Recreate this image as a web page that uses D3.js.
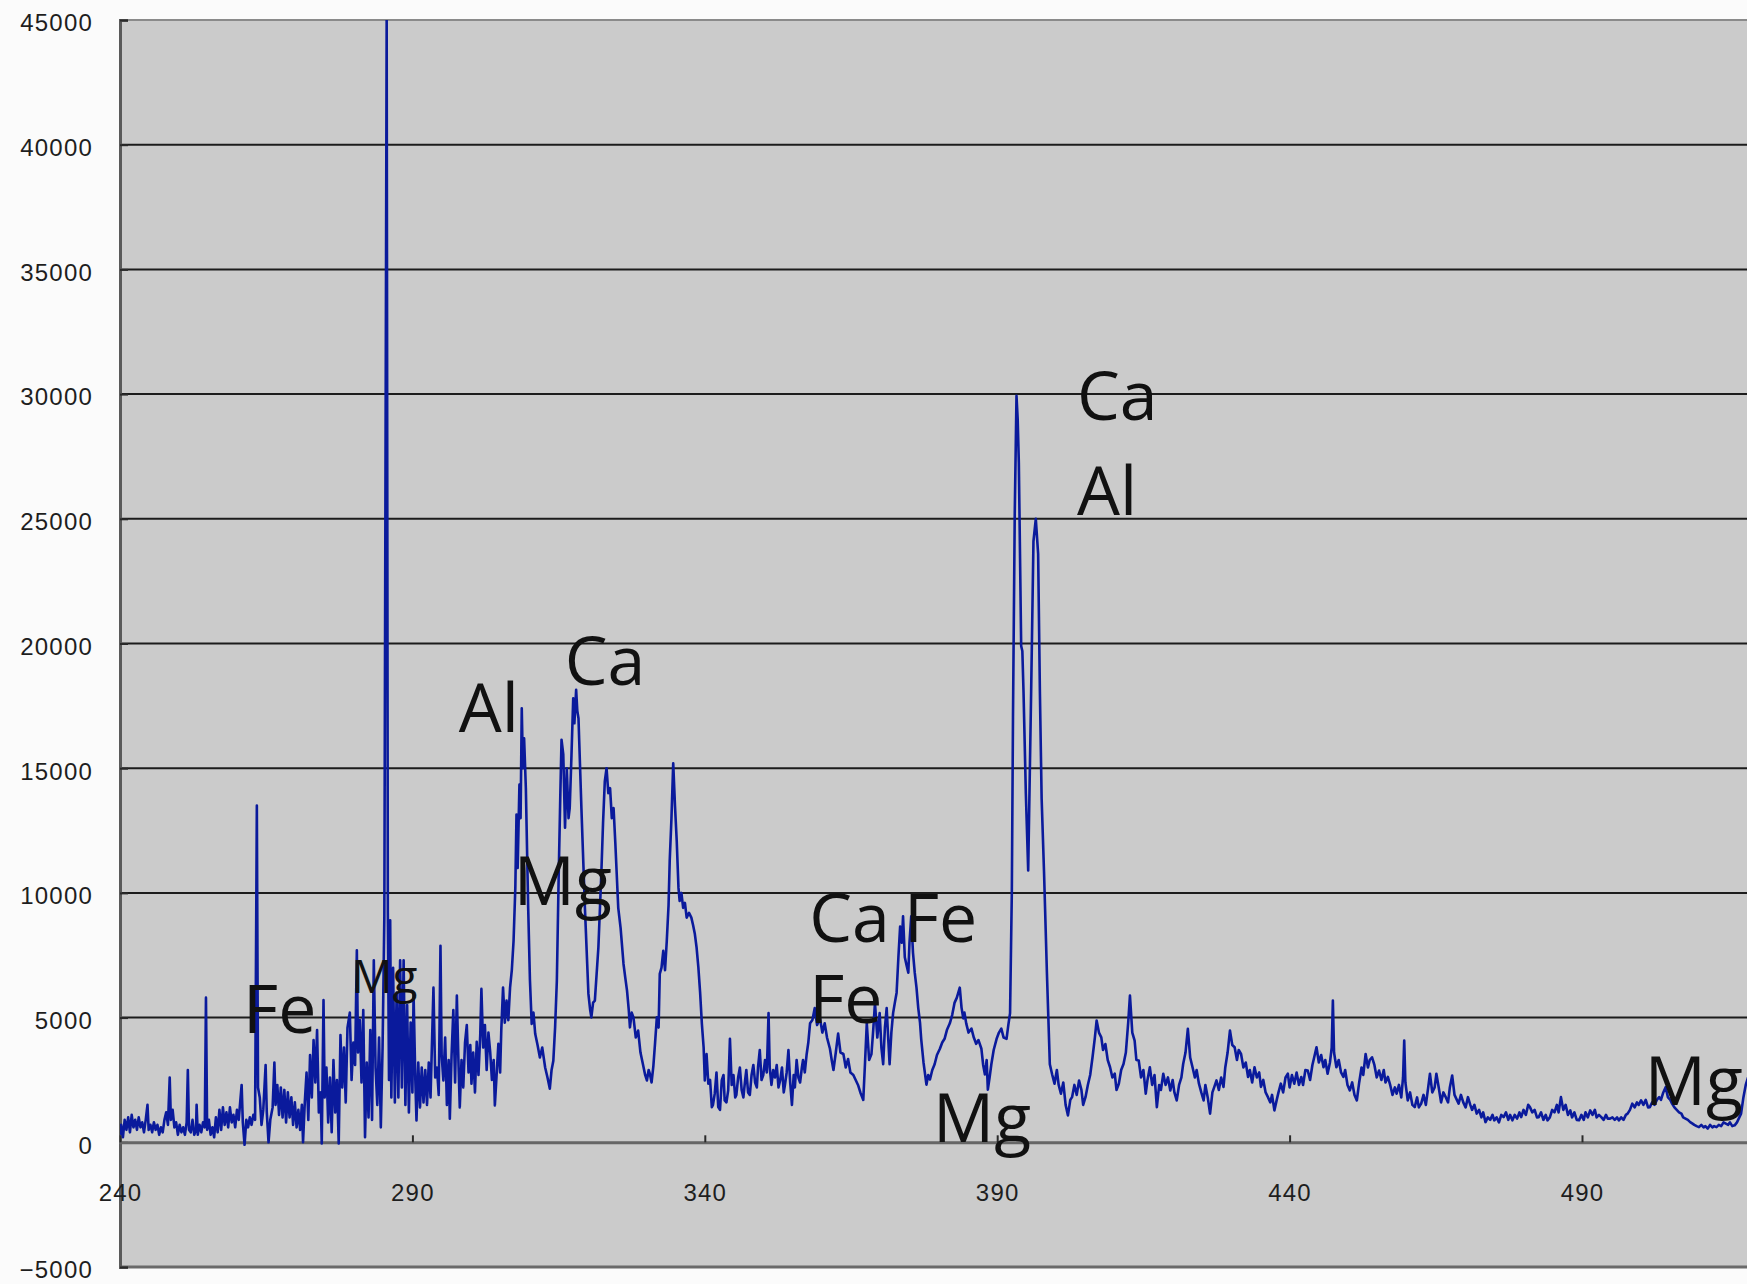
<!DOCTYPE html>
<html>
<head>
<meta charset="utf-8">
<script src="https://cdn.jsdelivr.net/npm/d3@7"></script>
<style>
  body { margin: 0; background: #fbfbfb; }
  svg { display: block; }
</style>
</head>
<body>
<div id="chart"></div>
<script>
// spectrum: [wavelength nm, counts]
const band240 = [[240.0,300],[240.2,700],[240.5,200],[240.8,900],[241.1,500],[241.4,1000],[241.7,400],[242.0,1100],[242.3,600],[242.6,900],[242.9,500],[243.2,1000],[243.5,600],[243.8,800],[244.1,400],[244.4,900],[244.7,1500],[244.9,500],[245.2,700],[245.5,400],[245.8,800],[246.1,500],[246.4,700],[246.7,300],[247.0,600],[247.3,400],[247.6,900],[247.9,1200],[248.2,700],[248.5,2600],[248.7,900],[249.0,1300],[249.3,600],[249.6,800],[249.9,300],[250.2,700],[250.5,400],[250.8,600],[251.1,300],[251.4,800],[251.6,2900],[251.8,500],[252.1,400],[252.4,900],[252.7,300],[253.0,500],[253.1,1500],[253.3,300],[253.6,700],[253.9,400],[254.2,800],[254.5,600],[254.7,5800],[254.9,500],[255.2,900],[255.5,300],[255.8,600],[256.1,200],[256.4,1000],[256.7,400],[257.0,1300],[257.3,500],[257.6,1400],[257.9,700],[258.2,1200],[258.5,600],[258.8,1400],[259.1,800],[259.4,1100],[259.7,600],[260.0,1300],[260.3,900],[260.8,2300],[261.0,800],[261.3,-100],[261.6,900],[261.9,600],[262.2,1000],[262.5,700],[262.8,1100],[263.1,900],[263.4,13500],[263.6,2200],[263.9,1800],[264.2,700],[264.5,1300],[264.9,3100],[265.1,1200],[265.4,0],[265.7,900],[266.1,1400],[266.4,3200],[266.6,1500],[266.9,2300],[267.2,1100],[267.5,2200],[267.8,1000],[268.1,2100],[268.4,800],[268.7,2000],[269.0,1000],[269.3,1800],[269.6,700],[269.9,1600],[270.2,600],[270.5,1300],[270.8,500],[271.1,1500],[271.3,0],[271.6,1600],[271.9,2800],[272.2,900],[272.5,3500],[272.8,1800],[273.1,4100],[273.4,2400],[273.7,4500],[274.0,1200],[274.3,2000],[274.5,-50],[274.8,5700],[275.0,1800],[275.3,3000],[275.6,800],[275.9,2600],[276.2,400],[276.5,3300],[276.8,1200],[277.1,2500],[277.4,-50],[277.7,4300],[278.0,2200],[278.3,3800],[278.6,1600],[278.9,4600],[279.3,5200],[279.6,2500],[279.9,4000],[280.2,3100],[280.5,7700],[280.7,3600],[281.0,4900],[281.3,2400],[281.6,5300],[281.9,200],[282.2,3200],[282.5,1000],[282.8,4500],[283.1,900],[283.4,7300],[283.7,3000],[284.0,1500],[284.3,4200],[284.6,600],[284.9,3800],[285.2,9000],[285.6,45000],[285.8,9200],[286.0,2500],[286.2,8900],[286.4,1800],[286.7,7000],[287.0,1600],[287.3,6000],[287.6,1800],[287.9,7300]];

const band290 = [[288.2,2200],[288.5,7300],[288.8,1500],[289.1,5500],[289.4,1200],[289.7,4800],[290.0,2000],[290.2,5950],[290.5,2500],[290.7,880],[291.0,3200],[291.3,1400],[291.6,3000],[291.9,1600],[292.2,2900],[292.5,1500],[292.8,3200],[293.1,1800],[293.6,6200],[293.9,2600],[294.2,3000],[294.5,1900],[294.8,7880],[295.0,3500],[295.3,2480],[295.6,4200],[295.9,1500],[296.2,3300],[296.4,950],[296.7,3500],[297.0,5300],[297.3,2400],[297.6,5880],[297.9,3000],[298.1,1400],[298.4,3300],[298.7,2200],[299.0,4000],[299.3,4700],[299.6,2800],[299.9,3900],[300.1,2350],[300.4,3600],[300.7,2000],[301.0,4030],[301.3,2700],[301.6,4300],[301.8,6150],[302.1,3800],[302.4,4700],[302.7,2900],[303.0,4400],[303.3,3630],[303.6,2500],[303.9,3300],[304.1,1480],[304.4,2700],[304.7,3950],[305.0,2800],[305.2,4500],[305.5,6200],[305.8,4800],[306.1,5680],[306.4,4900],[306.7,6200],[307.0,6900],[307.3,8080],[307.6,10200],[307.8,13140],[308.0,11000],[308.3,14340],[308.5,13000],[308.7,17400],[308.9,15000],[309.1,16200],[309.4,14200],[309.8,9400],[310.1,6500],[310.4,4750],[310.7,5200],[311.0,4350],[311.4,3900],[311.8,3400],[312.2,3800],[312.7,3000],[313.1,2600],[313.5,2150],[313.8,2900],[314.1,3270],[314.4,4600],[314.7,6480],[315.0,10500],[315.3,14000],[315.5,16140],[315.8,15550],[316.1,12610],[316.4,15000],[316.7,13000],[316.9,13400],[317.2,15500],[317.5,17800],[317.7,16800],[318.0,18140],[318.2,17300],[318.4,17000],[318.9,13400],[319.5,9400],[320.1,5950],[320.4,5300],[320.6,5010],[320.9,5600],[321.2,5680],[321.8,7800],[322.3,10740],[322.6,12800],[322.9,14470],[323.2,15000],[323.5,14000],[323.8,14200],[324.1,13000],[324.4,13400],[324.7,12000],[325.2,9400],[325.6,8600],[326.1,7150],[326.4,6600],[326.7,6080],[327.0,5300],[327.2,4610],[327.5,5200],[327.8,5010],[328.2,4200],[328.6,4480],[329.0,3600],[329.5,3040],[329.8,2700],[330.1,2480],[330.4,2900],[330.6,2750],[330.9,2400],[331.2,3040],[331.5,4000],[331.8,5010],[332.1,4600],[332.3,6750],[332.6,7000],[332.9,7680],[333.2,6900],[333.5,8080],[333.8,9500],[334.0,11280],[334.3,13000],[334.6,15200],[334.9,13500],[335.2,12080],[335.5,10200],[335.7,9680],[336.0,10000],[336.3,9400],[336.6,9600],[336.9,9010],[337.3,9200],[337.7,9010],[338.0,8700],[338.3,8350],[338.6,7800],[338.9,7010],[339.2,6000],[339.5,4750]];

const band340 = [[339.8,3800],[340.0,2480],[340.3,3540],[340.6,2350],[340.9,2500],[341.2,1410],[341.4,1500],[341.7,1950],[342.0,2800],[342.3,1410],[342.6,1300],[342.9,2480],[343.2,2700],[343.4,1680],[343.7,1600],[344.0,2080],[344.3,4150],[344.6,2300],[344.9,2700],[345.2,1800],[345.4,1900],[345.7,2600],[346.0,3000],[346.3,2100],[346.6,1800],[346.9,2500],[347.1,2900],[347.4,2000],[347.7,1900],[348.0,2700],[348.3,3100],[348.6,2400],[348.9,2200],[349.1,3000],[349.4,3700],[349.7,2500],[350.0,2700],[350.3,3300],[350.6,2800],[350.9,5180],[351.1,3000],[351.4,2300],[351.7,2900],[352.0,2600],[352.3,3100],[352.6,2200],[352.9,2500],[353.2,3000],[353.5,2000],[353.7,2300],[354.0,2800],[354.3,3700],[354.6,2400],[354.9,1500],[355.2,2700],[355.4,2200],[355.7,3300],[356.0,2600],[356.3,2400],[356.6,3000],[356.8,3300],[357.1,2800],[357.4,3500],[357.7,4000],[358.0,4770],[358.4,4900],[358.8,5380],[359.2,4700],[359.7,4970],[360.1,4400],[360.5,4770],[360.9,4200],[361.4,3750],[361.7,3300],[362.0,2900],[362.4,3600],[362.8,4360],[363.2,3600],[363.7,3540],[364.1,3000],[364.5,3340],[364.9,2800],[365.4,2700],[365.8,2500],[366.2,2300],[366.6,2000],[367.1,1700],[367.4,3200],[367.7,4770],[368.1,3300],[368.5,3540],[368.8,4500],[369.1,5590],[369.5,4200],[369.9,5180],[370.2,3800],[370.5,3130],[370.8,4600],[371.1,5380],[371.4,4000],[371.6,3130],[371.9,4400],[372.2,5180],[372.5,5600],[372.8,6000],[373.1,7400],[373.4,8650],[373.7,8000],[373.9,9060],[374.2,7420],[374.5,7100],[374.8,6800],[375.0,8000],[375.3,9060],[375.6,7600],[375.9,6800],[376.2,6200],[376.5,5380],[376.8,4800],[377.0,4150],[377.4,3200],[377.9,2310],[378.2,2700],[378.5,2520],[378.9,2900],[379.3,3130],[379.7,3500],[380.2,3750],[380.6,4000],[381.0,4150],[381.4,4500],[381.9,4770],[382.3,5100],[382.7,5590],[383.1,5800],[383.6,6200],[383.9,5400],[384.2,4970],[384.4,5200],[384.7,4770],[385.1,4400],[385.6,4560],[386.0,4200],[386.4,3950],[386.8,4100],[387.3,3750],[387.6,3100],[387.9,2720],[388.2,3300],[388.4,2110],[388.7,2600],[389.0,3130],[389.4,3700],[389.9,4150],[390.3,4400],[390.7,4560],[391.1,4200],[391.6,4150],[391.9,4700],[392.2,5180],[392.5,10000],[392.7,17040],[393.0,25200],[393.3,29930],[393.5,29000],[393.7,27250],[394.1,19900],[394.3,19700],[394.5,18070],[394.9,13970],[395.3,10900],[395.8,18000],[396.2,24100],[396.6,25000],[397.0,23600],[397.3,18070],[397.6,13770],[398.0,10900],[398.5,6800],[399.0,3130]];

const band400 = [[399.4,2720],[399.8,2350],[400.2,2900],[400.5,2310],[400.9,1950],[401.3,2400],[401.7,1500],[402.1,1080],[402.5,1700],[402.8,1810],[403.2,2300],[403.6,1900],[404.0,2480],[404.4,2100],[404.7,1500],[405.1,1810],[405.5,2300],[405.9,2700],[406.3,3410],[406.7,4200],[407.0,4880],[407.4,4400],[407.8,4210],[408.1,3700],[408.5,3940],[408.9,3300],[409.3,3010],[409.7,2600],[410.1,2750],[410.4,2100],[410.8,2350],[411.2,2900],[411.6,3140],[412.0,3600],[412.4,4800],[412.7,5880],[413.1,4400],[413.5,4080],[413.8,3300],[414.2,3280],[414.6,2600],[415.0,2900],[415.4,1950],[415.7,2500],[416.1,3010],[416.5,2300],[416.9,2700],[417.3,1410],[417.7,2300],[418.0,2100],[418.4,2750],[418.8,2300],[419.2,2600],[419.6,2080],[420.0,2500],[420.3,2000],[420.7,1680],[421.1,2300],[421.5,2600],[421.8,3140],[422.2,3600],[422.6,4550],[423.0,3400],[423.4,3010],[423.8,2600],[424.1,2900],[424.5,2350],[424.9,2000],[425.3,1680],[425.6,2300],[426.0,1800],[426.4,1150],[426.8,2000],[427.1,2200],[427.5,2480],[427.9,2100],[428.3,2600],[428.7,2220],[429.0,3000],[429.4,3600],[429.8,4480],[430.2,3900],[430.6,3810],[431.0,3300],[431.3,3700],[431.7,3540],[432.1,3000],[432.5,3200],[432.9,2620],[433.2,2900],[433.6,2400],[434.0,3010],[434.4,2600],[434.8,2800],[435.1,2220],[435.5,2500],[435.9,2000],[436.3,1810],[436.7,1600],[437.0,1900],[437.4,1280],[437.8,1700],[438.1,2000],[438.5,2350],[438.9,2000],[439.3,2600],[439.7,2750],[440.0,2200],[440.4,2700],[440.8,2350],[441.2,2800],[441.6,2300],[442.0,2620],[442.3,2300],[442.7,2900],[443.1,2880],[443.5,2500],[443.9,3100],[444.2,3400],[444.6,3810],[445.0,3200],[445.4,3500],[445.8,3010],[446.1,3300],[446.5,2750],[446.9,3200],[447.2,3800],[447.4,5680],[447.6,3600],[448.0,3010],[448.4,3300],[448.8,2800],[449.2,2620],[449.5,2900],[449.9,2300],[450.3,2080],[450.7,2400],[451.1,1900],[451.5,1680],[451.9,2400],[452.3,3000],[452.6,2700],[453.0,3540],[453.4,3000],[453.7,3300],[454.1,3410],[454.5,3100],[454.9,2600],[455.3,2880],[455.7,2500],[456.1,2900],[456.4,2400],[456.8,2620],[457.2,2300],[457.6,1900],[458.0,2200],[458.3,1950],[458.7,2300],[459.1,1800],[459.4,2600],[459.6,4080],[459.8,2400],[460.2,1680],[460.6,2000],[461.0,1500],[461.4,1410],[461.8,1800],[462.1,1400],[462.5,1550],[462.9,1900],[463.3,1500],[463.7,2200],[464.0,2750],[464.4,2000],[464.8,2200],[465.1,2750],[465.5,2200],[465.9,1600],[466.3,2000],[466.7,1810],[467.1,1600],[467.4,2200],[467.8,2680],[468.2,1900],[468.6,1700],[468.9,1550],[469.3,1900],[469.7,1600],[470.1,1400],[470.5,1810],[470.9,1500],[471.2,1300],[471.6,1500],[472.0,1150],[472.4,1300],[472.8,1000],[473.1,1200],[473.5,810],[473.9,1000],[474.3,900],[474.7,1100],[475.0,880],[475.4,1000],[475.8,800],[476.2,1100],[476.6,1010],[477.0,1200],[477.4,900],[477.7,1100],[478.1,880],[478.5,1100],[478.9,950],[479.3,1200],[479.6,1010],[480.0,1300],[480.4,1100],[480.8,1500],[481.1,1410],[481.5,1200],[481.9,1300],[482.3,1000],[482.6,1010],[483.0,1200],[483.4,900],[483.8,1100],[484.1,880],[484.5,1000],[484.9,1300],[485.3,1200],[485.7,1500],[486.0,1200],[486.4,1810],[486.8,1300],[487.2,1500],[487.6,1100],[488.0,1280],[488.3,1000],[488.7,1200],[489.1,900],[489.5,880],[489.9,1100],[490.3,900],[490.6,1200],[491.0,1000],[491.4,1280],[491.8,1100],[492.2,1300],[492.5,1000],[492.9,1100],[493.3,1010],[493.7,900],[494.1,1100],[494.4,950],[494.8,950],[495.2,1000],[495.6,900],[496.0,1000],[496.3,880],[496.7,1000],[497.1,900],[497.5,1100],[497.8,1150],[498.2,1300],[498.6,1550],[499.0,1400],[499.4,1600],[499.7,1500],[500.1,1680],[500.5,1500],[500.9,1700],[501.3,1400],[501.6,1410],[502.0,1600],[502.4,1500],[502.8,1700],[503.2,1810],[503.5,1700],[503.9,2000],[504.3,2210],[504.7,1800],[505.1,1700],[505.4,1550],[505.8,1400],[506.2,1300],[506.6,1200],[507.0,1150],[507.3,1000],[507.7,950],[508.1,900],[508.5,810],[508.9,750],[509.2,700],[509.6,650],[510.0,610],[510.4,700],[510.8,600],[511.1,650],[511.5,550],[511.9,700],[512.3,600],[512.6,650],[513.0,610],[513.4,700],[513.8,650],[514.2,800],[514.6,750],[515.0,700],[515.3,800],[515.7,650],[516.1,680],[516.5,800],[516.9,1000],[517.2,1150],[517.6,1800],[518.0,2300],[518.4,2600]];

const xTicks = [240, 290, 340, 390, 440, 490];
const yTicks = [-5000, 0, 5000, 10000, 15000, 20000, 25000, 30000, 35000, 40000, 45000];

// element labels, anchored in data units (left edge, baseline)
const peakLabels  = ["Ca", "Al", "Al", "Ca", "Mg", "Ca", "Fe", "Fe", "Mg", "Fe", "Mg", "Mg"];
const labelNm     = [403.3, 403.3, 297.6, 315.7, 307.0, 357.5, 373.7, 357.5, 378.7, 260.7, 279.2, 500.4];
const labelCounts = [28950, 25140, 16440, 18320, 9500, 8040, 8040, 4770, 0, 4370, 5970, 1480];

const spectrum = band240.concat(band290, band340, band400);

const width = 1747, height = 1284;
const plotLeft = 120, plotTop = 20, plotBottom = 1267;

const x = d3.scaleLinear().domain([240, 540]).range([plotLeft, plotLeft + 300 * 5.848]);
const y = d3.scaleLinear().domain([-5000, 45000]).range([plotBottom, plotTop]);

const svg = d3.select("#chart").append("svg")
  .attr("width", width)
  .attr("height", height);

svg.append("defs").append("clipPath").attr("id", "plot")
  .append("rect")
  .attr("x", plotLeft).attr("y", plotTop)
  .attr("width", width - plotLeft).attr("height", plotBottom - plotTop);

// plot background
svg.append("rect")
  .attr("x", plotLeft).attr("y", plotTop)
  .attr("width", width - plotLeft).attr("height", plotBottom - plotTop)
  .attr("fill", "#cbcbcb");

// horizontal gridlines
svg.append("g").selectAll("line")
  .data(yTicks.filter(d => d > 0 && d < 45000))
  .join("line")
  .attr("x1", plotLeft).attr("x2", width)
  .attr("y1", d => y(d)).attr("y2", d => y(d))
  .attr("stroke", "#1c1c1c")
  .attr("stroke-width", 2);

// plot borders: top, bottom
svg.append("line")
  .attr("x1", plotLeft).attr("x2", width)
  .attr("y1", y(45000)).attr("y2", y(45000))
  .attr("stroke", "#8a8a8a").attr("stroke-width", 2);
svg.append("line")
  .attr("x1", plotLeft).attr("x2", width)
  .attr("y1", y(-5000)).attr("y2", y(-5000))
  .attr("stroke", "#6a6a6a").attr("stroke-width", 3);

// y axis
const yAxis = svg.append("g")
  .attr("transform", `translate(${plotLeft},0)`)
  .call(d3.axisLeft(y).tickValues(yTicks).tickSize(-8).tickPadding(27).tickFormat(d3.format("d")));
yAxis.select(".domain").attr("stroke", "#5a5a5a").attr("stroke-width", 3);
yAxis.selectAll(".tick line").attr("stroke", "#2a2a2a").attr("stroke-width", 2);
yAxis.selectAll(".tick text").attr("dy", "0.45em");

// x axis sits on the zero line
const xAxis = svg.append("g")
  .attr("transform", `translate(0,${y(0)})`)
  .call(d3.axisBottom(x).tickValues(xTicks).tickSize(-7).tickPadding(0));
xAxis.select(".domain").attr("stroke", "#666").attr("stroke-width", 3);
xAxis.selectAll(".tick line").attr("stroke", "#2a2a2a").attr("stroke-width", 2);
xAxis.selectAll(".tick text").attr("y", 50).attr("dy", "0.35em");

svg.selectAll(".tick text")
  .attr("fill", "#1e1e1e")
  .style("font-family", "'Liberation Sans', Arial, sans-serif")
  .style("font-size", "24px")
  .style("letter-spacing", "1.2px");

// spectrum line
const line = d3.line()
  .x(d => x(d[0]))
  .y(d => y(d[1]));

svg.append("path")
  .datum(spectrum)
  .attr("clip-path", "url(#plot)")
  .attr("d", line)
  .attr("fill", "none")
  .attr("stroke", "#0a1a9c")
  .attr("stroke-width", 2.6)
  .attr("stroke-linejoin", "round");

// element labels
svg.append("g").selectAll("text")
  .data(peakLabels)
  .join("text")
  .attr("x", (d, i) => x(labelNm[i]) + 2)
  .attr("y", (d, i) => y(labelCounts[i]))
  .text(d => d)
  .attr("fill", "#111")
  .style("font-family", "'Open Sans', sans-serif")
  .style("font-size", (d, i) => i === 10 ? "46px" : "68px");
</script>
</body>
</html>
